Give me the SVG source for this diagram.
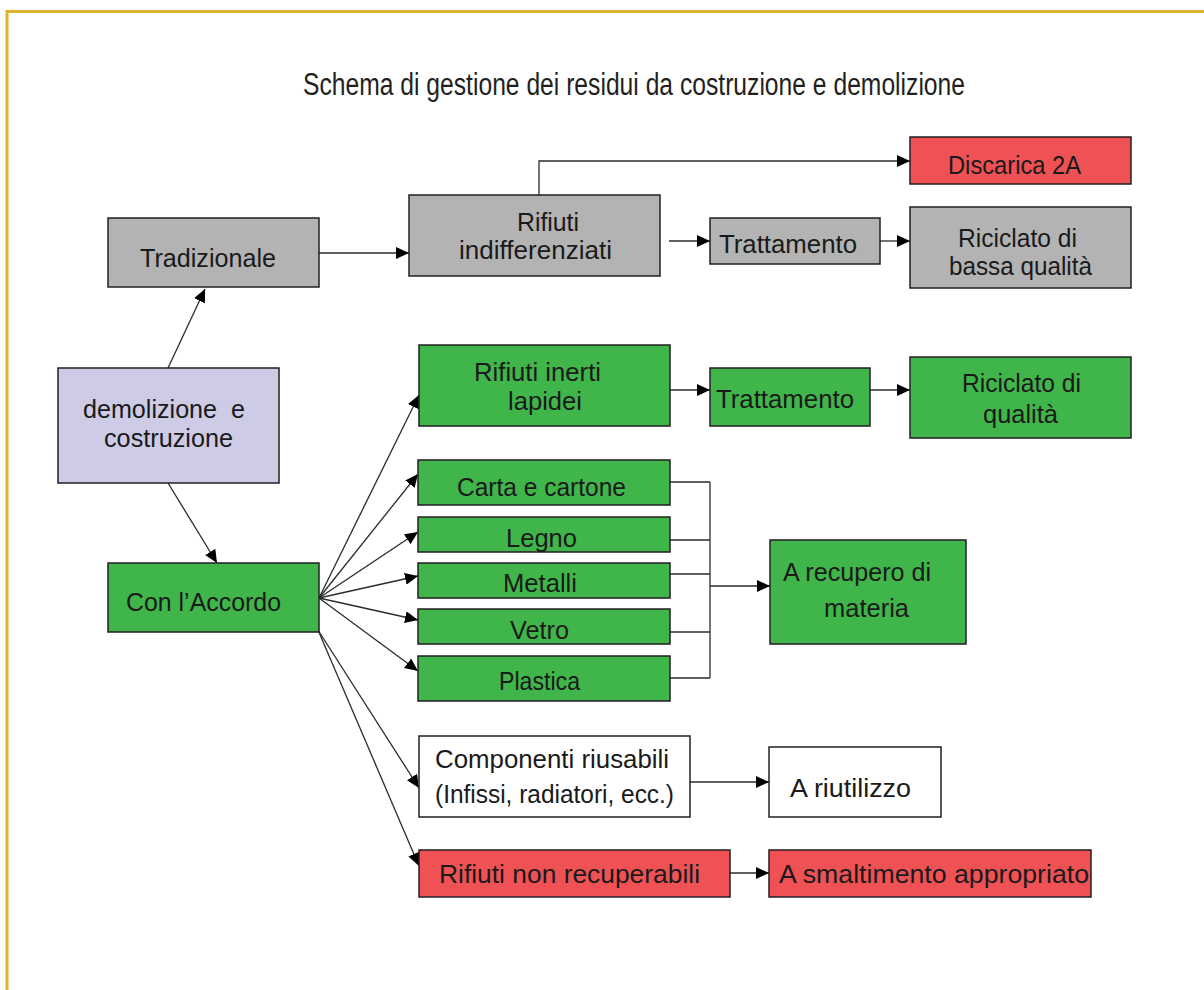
<svg xmlns="http://www.w3.org/2000/svg" width="1204" height="990" viewBox="0 0 1204 990">
<style>
.box{stroke:#231f20;stroke-width:1.5}
.gray{fill:#b3b3b3}
.green{fill:#3fb54a}
.red{fill:#f05155}
.lav{fill:#cecbe6}
.white{fill:#ffffff}
.t{font-family:"Liberation Sans",Arial,sans-serif;font-size:25px;fill:#1a1a1a}
.title{font-family:"Liberation Sans",Arial,sans-serif;font-size:31px;fill:#231f20}
.c{fill:none;stroke:#2b2b2b;stroke-width:1.3}
</style>
<defs>
<marker id="ah" markerUnits="userSpaceOnUse" markerWidth="14" markerHeight="12" refX="13" refY="6" orient="auto">
<path d="M0,0 L13,6 L0,12 Z" fill="#000"/>
</marker>
</defs>
<rect x="0" y="0" width="1204" height="990" fill="#ffffff"/>
<g id="border">
<line x1="6" y1="11.5" x2="1204" y2="11.5" stroke="#e0b22a" stroke-width="3"/>
<line x1="7" y1="10" x2="7" y2="990" stroke="#e0b22a" stroke-width="3"/>
</g>
<text id="title" class="title" x="303" y="95" textLength="662" lengthAdjust="spacingAndGlyphs">Schema di gestione dei residui da costruzione e demolizione</text>

<g id="connectors">
<line class="c" x1="168" y1="368" x2="205" y2="289" marker-end="url(#ah)"/>
<line class="c" x1="168" y1="483" x2="217" y2="563" marker-end="url(#ah)"/>
<line class="c" x1="319" y1="253" x2="409" y2="253" marker-end="url(#ah)"/>
<path class="c" d="M539,195 V161 H910" marker-end="url(#ah)"/>
<line class="c" x1="669" y1="241" x2="710" y2="241" marker-end="url(#ah)"/>
<line class="c" x1="880" y1="241" x2="910" y2="241" marker-end="url(#ah)"/>
<line class="c" x1="319" y1="598" x2="419" y2="395" marker-end="url(#ah)"/>
<line class="c" x1="319" y1="598" x2="418" y2="474" marker-end="url(#ah)"/>
<line class="c" x1="319" y1="598" x2="418" y2="532" marker-end="url(#ah)"/>
<line class="c" x1="319" y1="598" x2="418" y2="576" marker-end="url(#ah)"/>
<line class="c" x1="319" y1="598" x2="418" y2="620" marker-end="url(#ah)"/>
<line class="c" x1="319" y1="598" x2="418" y2="671" marker-end="url(#ah)"/>
<line class="c" x1="318" y1="630" x2="419" y2="788" marker-end="url(#ah)"/>
<line class="c" x1="318" y1="630" x2="419" y2="866" marker-end="url(#ah)"/>
<line class="c" x1="670" y1="390" x2="710" y2="390" marker-end="url(#ah)"/>
<line class="c" x1="870" y1="390" x2="910" y2="390" marker-end="url(#ah)"/>
<path class="c" d="M670,482 H710 M670,540 H710 M670,574 H710 M670,632 H710 M670,678 H710 M710,482 V678"/>
<line class="c" x1="710" y1="586" x2="770" y2="586" marker-end="url(#ah)"/>
<line class="c" x1="690" y1="782" x2="769" y2="782" marker-end="url(#ah)"/>
<line class="c" x1="720" y1="873" x2="769" y2="873" marker-end="url(#ah)"/>
</g>

<g id="tradizionale">
<rect class="box gray" x="108" y="218" width="211" height="69"/>
<text class="t" x="140" y="267" textLength="136" lengthAdjust="spacingAndGlyphs">Tradizionale</text>
</g>
<g id="demolizione">
<rect class="box lav" x="58" y="368" width="221" height="115"/>
<text class="t" xml:space="preserve"><tspan x="83" y="418" textLength="162" lengthAdjust="spacingAndGlyphs">demolizione  e</tspan><tspan x="104" y="447" textLength="129" lengthAdjust="spacingAndGlyphs">costruzione</tspan></text>
</g>
<g id="accordo">
<rect class="box green" x="108" y="563" width="211" height="69"/>
<text class="t" x="126" y="611" textLength="155" lengthAdjust="spacingAndGlyphs">Con l’Accordo</text>
</g>
<g id="indifferenziati">
<rect class="box gray" x="409" y="195" width="251" height="81"/>
<text class="t"><tspan x="517" y="231" textLength="62" lengthAdjust="spacingAndGlyphs">Rifiuti</tspan><tspan x="459" y="259" textLength="153" lengthAdjust="spacingAndGlyphs">indifferenziati</tspan></text>
</g>
<g id="discarica">
<rect class="box red" x="910" y="137" width="221" height="47"/>
<text class="t" x="948" y="174" textLength="133" lengthAdjust="spacingAndGlyphs">Discarica 2A</text>
</g>
<g id="trattamento1">
<rect class="box gray" x="710" y="218" width="170" height="46"/>
<text class="t" x="719" y="253" textLength="138" lengthAdjust="spacingAndGlyphs">Trattamento</text>
</g>
<g id="riciclato-bassa">
<rect class="box gray" x="910" y="207" width="221" height="81"/>
<text class="t"><tspan x="958" y="247" textLength="119" lengthAdjust="spacingAndGlyphs">Riciclato di</tspan><tspan x="949" y="275" textLength="143" lengthAdjust="spacingAndGlyphs">bassa qualità</tspan></text>
</g>
<g id="inerti">
<rect class="box green" x="419" y="345" width="251" height="81"/>
<text class="t"><tspan x="474" y="381" textLength="127" lengthAdjust="spacingAndGlyphs">Rifiuti inerti</tspan><tspan x="508" y="410" textLength="74" lengthAdjust="spacingAndGlyphs">lapidei</tspan></text>
</g>
<g id="trattamento2">
<rect class="box green" x="710" y="368" width="160" height="58"/>
<text class="t" x="716" y="408" textLength="138" lengthAdjust="spacingAndGlyphs">Trattamento</text>
</g>
<g id="riciclato-qualita">
<rect class="box green" x="910" y="357" width="221" height="81"/>
<text class="t"><tspan x="962" y="392" textLength="119" lengthAdjust="spacingAndGlyphs">Riciclato di</tspan><tspan x="983" y="423" textLength="75" lengthAdjust="spacingAndGlyphs">qualità</tspan></text>
</g>
<g id="carta">
<rect class="box green" x="418" y="460" width="252" height="45"/>
<text class="t" x="457" y="496" textLength="169" lengthAdjust="spacingAndGlyphs">Carta e cartone</text>
</g>
<g id="legno">
<rect class="box green" x="418" y="517" width="252" height="35"/>
<text class="t" x="506" y="547" textLength="71" lengthAdjust="spacingAndGlyphs">Legno</text>
</g>
<g id="metalli">
<rect class="box green" x="418" y="563" width="252" height="35"/>
<text class="t" x="503" y="592" textLength="74" lengthAdjust="spacingAndGlyphs">Metalli</text>
</g>
<g id="vetro">
<rect class="box green" x="418" y="609" width="252" height="35"/>
<text class="t" x="510" y="639" textLength="59" lengthAdjust="spacingAndGlyphs">Vetro</text>
</g>
<g id="plastica">
<rect class="box green" x="418" y="656" width="252" height="45"/>
<text class="t" x="499" y="690" textLength="81" lengthAdjust="spacingAndGlyphs">Plastica</text>
</g>
<g id="recupero">
<rect class="box green" x="770" y="540" width="196" height="104"/>
<text class="t"><tspan x="783" y="581" textLength="148" lengthAdjust="spacingAndGlyphs">A recupero di</tspan><tspan x="824" y="617" textLength="85" lengthAdjust="spacingAndGlyphs">materia</tspan></text>
</g>
<g id="componenti">
<rect class="box white" x="419" y="736" width="271" height="81"/>
<text class="t"><tspan x="435" y="768" textLength="234" lengthAdjust="spacingAndGlyphs">Componenti riusabili</tspan><tspan x="435" y="803" textLength="239" lengthAdjust="spacingAndGlyphs">(Infissi, radiatori, ecc.)</tspan></text>
</g>
<g id="riutilizzo">
<rect class="box white" x="769" y="747" width="172" height="70"/>
<text class="t" x="790" y="797" textLength="121" lengthAdjust="spacingAndGlyphs">A riutilizzo</text>
</g>
<g id="non-recuperabili">
<rect class="box red" x="419" y="850" width="311" height="47"/>
<text class="t" x="439" y="883" textLength="261" lengthAdjust="spacingAndGlyphs">Rifiuti non recuperabili</text>
</g>
<g id="smaltimento">
<rect class="box red" x="769" y="850" width="322" height="47"/>
<text class="t" x="779" y="883" textLength="310" lengthAdjust="spacingAndGlyphs">A smaltimento appropriato</text>
</g>
</svg>
